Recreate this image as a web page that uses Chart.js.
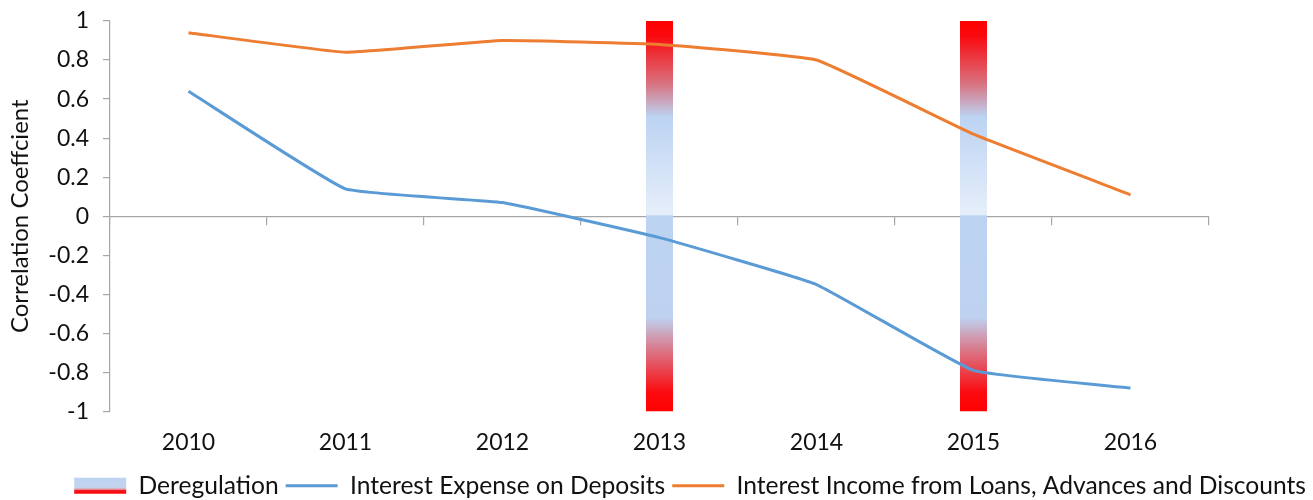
<!DOCTYPE html>
<html>
<head>
<meta charset="utf-8">
<script src="https://cdn.jsdelivr.net/npm/chart.js@4.4.1/dist/chart.umd.min.js"></script>
<style>
  html, body { margin: 0; padding: 0; background: #fff; }
  #wrap { width: 1313px; height: 500px; }
</style>
</head>
<body>
<div id="wrap"><canvas id="chart" width="1313" height="500"></canvas></div>
<script>
const years = ['2010', '2011', '2012', '2013', '2014', '2015', '2016'];
const expenseOnDeposits = [0.64, 0.14, 0.07, -0.11, -0.35, -0.79, -0.88];
const incomeFromLoans = [0.94, 0.84, 0.90, 0.88, 0.80, 0.42, 0.11];
const deregulation = [null, null, null, [-1, 1], null, [-1, 1], null];

const FONT = 'Lato, "Liberation Sans", sans-serif';
const AXIS_GREY = '#a6a6a6';
const TEXT = '#111111';

function barGradient(context) {
  const chart = context.chart;
  const yScale = chart.scales.y;
  if (!chart.chartArea || !yScale) {
    return '#bcd3f2';
  }
  const top = yScale.getPixelForValue(1);
  const bottom = yScale.getPixelForValue(-1);
  const g = chart.ctx.createLinearGradient(0, top, 0, bottom);
  g.addColorStop(0, '#ff0000');
  g.addColorStop(0.04, '#f90a0f');
  g.addColorStop(0.16, '#d9727f');
  g.addColorStop(0.245, '#bcd3f2');
  g.addColorStop(0.495, '#e6eefa');
  g.addColorStop(0.5, '#bcd3f2');
  g.addColorStop(0.76, '#bed2f0');
  g.addColorStop(0.84, '#d97a8c');
  g.addColorStop(0.95, '#fb0c10');
  g.addColorStop(1, '#ff0000');
  return g;
}

// legend swatch for the gradient bars: blue on top, red at the bottom
const swatchPlugin = {
  id: 'swatch',
  afterDraw(chart) {
    const legend = chart.legend;
    if (!legend || !legend.legendHitBoxes || !legend.legendHitBoxes.length) {
      return;
    }
    const box = legend.legendHitBoxes[0];
    const w = chart.options.plugins.legend.labels.pointStyleWidth;
    const h = 16;
    const x = box.left;
    const y = box.top + box.height / 2 - h / 2;
    const ctx = chart.ctx;
    const g = ctx.createLinearGradient(0, y, 0, y + h);
    g.addColorStop(0, '#bcd3f2');
    g.addColorStop(0.6, '#c4d5f0');
    g.addColorStop(0.72, '#e4a0ac');
    g.addColorStop(0.8, '#f01a20');
    g.addColorStop(1, '#ff0000');
    ctx.save();
    ctx.fillStyle = '#fff';
    ctx.fillRect(x - 1, y - 2, w + 2, h + 4);
    ctx.fillStyle = g;
    ctx.fillRect(x, y, w, h);
    ctx.restore();
  }
};

new Chart(document.getElementById('chart'), {
  data: {
    labels: years,
    datasets: [
      {
        type: 'bar',
        label: 'Deregulation',
        data: deregulation,
        backgroundColor: barGradient,
        borderWidth: 0,
        barPercentage: 0.172,
        categoryPercentage: 1,
        order: 3
      },
      {
        type: 'line',
        label: 'Interest Expense on Deposits',
        data: expenseOnDeposits,
        borderColor: '#5b9bd5',
        backgroundColor: '#5b9bd5',
        borderWidth: 3,
        pointRadius: 0,
        tension: 0.1,
        order: 2
      },
      {
        type: 'line',
        label: 'Interest Income from Loans, Advances and Discounts',
        data: incomeFromLoans,
        borderColor: '#ed7d31',
        backgroundColor: '#ed7d31',
        borderWidth: 3,
        pointRadius: 0,
        tension: 0.1,
        order: 1
      }
    ]
  },
  options: {
    responsive: false,
    animation: false,
    layout: { padding: { top: 21, right: 0, left: 0, bottom: -8 } },
    scales: {
      x: {
        type: 'category',
        position: 'bottom',
        grid: { display: false, drawTicks: false },
        border: { display: false },
        ticks: { color: TEXT, font: { family: FONT, size: 23 }, padding: 17 },
        afterFit(scale) { scale.height = 55; }
      },
      x2: {
        type: 'category',
        labels: years,
        position: { y: 0 },
        offset: true,
        grid: { offset: true, drawOnChartArea: false, drawTicks: true, tickLength: 8, color: AXIS_GREY, lineWidth: 1.2 },
        border: { display: true, color: AXIS_GREY, width: 1.2 },
        ticks: { display: false }
      },
      y: {
        min: -1,
        max: 1,
        grid: { drawOnChartArea: false, drawTicks: true, tickLength: 7, color: AXIS_GREY, lineWidth: 1.2 },
        border: { display: true, color: AXIS_GREY, width: 1.2 },
        ticks: {
          stepSize: 0.2,
          color: TEXT,
          padding: 14,
          font: { family: FONT, size: 23 },
          callback(value) { return String(Number(value.toFixed(1))); }
        },
        title: {
          display: true,
          text: 'Correlation Coeffcient',
          color: TEXT,
          font: { family: FONT, size: 24 },
          padding: { top: 6, bottom: 0 }
        },
        afterFit(scale) {
          scale.width = 110;
          scale.paddingTop = 12;
          scale.paddingBottom = 12;
        }
      },
      // empty right-hand strip, keeps the plot short of the right edge
      yr: {
        position: 'right',
        display: true,
        grid: { display: false, drawTicks: false },
        border: { display: false },
        ticks: { display: false },
        afterFit(scale) { scale.width = 104; }
      }
    },
    plugins: {
      legend: {
        position: 'bottom',
        align: 'end',
        labels: {
          usePointStyle: true,
          pointStyleWidth: 52,
          boxHeight: 16,
          padding: 7,
          color: TEXT,
          font: { family: FONT, size: 24.6 },
          sort(a, b) { return a.datasetIndex - b.datasetIndex; },
          generateLabels(chart) {
            return chart.data.datasets.map((ds, i) => ({
              text: ds.label,
              datasetIndex: i,
              fillStyle: ds.type === 'bar' ? '#bcd3f2' : ds.borderColor,
              strokeStyle: ds.type === 'bar' ? '#bcd3f2' : ds.borderColor,
              lineWidth: ds.type === 'bar' ? 0 : 3,
              pointStyle: ds.type === 'bar' ? 'rect' : 'line',
              fontColor: TEXT,
              hidden: false
            }));
          }
        }
      },
      tooltip: { enabled: false }
    }
  },
  plugins: [swatchPlugin]
});
</script>
</body>
</html>
